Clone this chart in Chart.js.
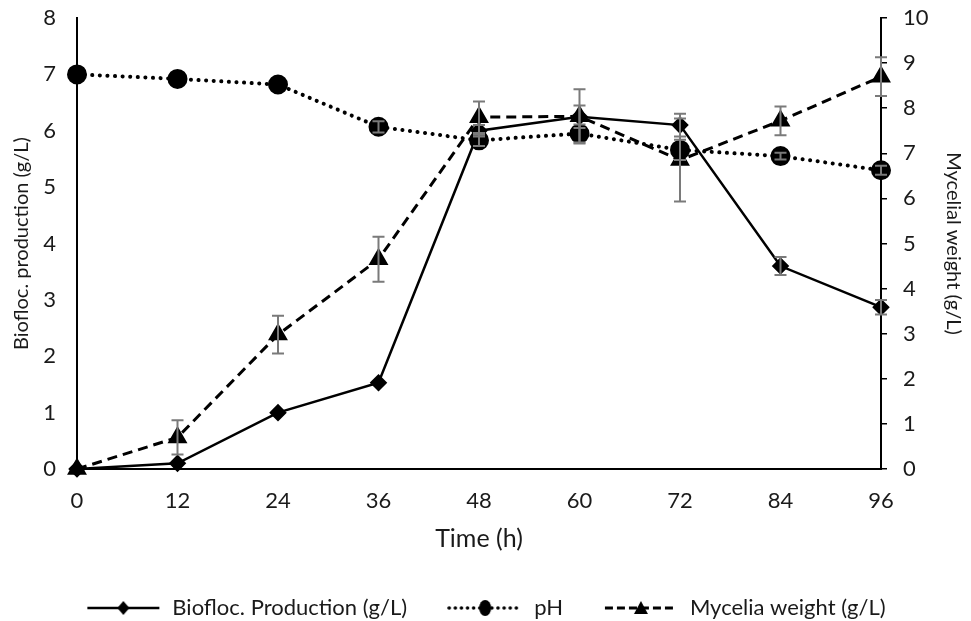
<!DOCTYPE html>
<html>
<head>
<meta charset="utf-8">
<script src="https://cdn.jsdelivr.net/npm/chart.js"></script>
<style>
  html, body { margin: 0; padding: 0; background: #fff; }
  #wrap { width: 971px; height: 621px; }
</style>
</head>
<body>
<div id="wrap"><canvas id="chart"></canvas></div>
<script>
// time points (h)
const hours = [0, 12, 24, 36, 48, 60, 72, 84, 96];

// series values
const biofloc = [0, 0.1, 1.0, 1.53, 6.0, 6.25, 6.1, 3.6, 2.87];
const bioflocErr = [0, 0, 0, 0, 0.1, 0.2, 0.2, 0.16, 0.13];
const ph = [7.0, 6.92, 6.82, 6.07, 5.83, 5.95, 5.66, 5.55, 5.3];
const phErr = [0, 0, 0, 0.1, 0.1, 0.16, 0.18, 0.06, 0.08];
const mycelia = [0, 0.7, 2.98, 4.65, 7.8, 7.82, 6.85, 7.72, 8.7];
const myceliaErr = [0, 0.38, 0.42, 0.5, 0.35, 0.6, 0.92, 0.32, 0.43];

const leftTicks = [0, 1, 2, 3, 4, 5, 6, 7, 8];
const rightTicks = [0, 1, 2, 3, 4, 5, 6, 7, 8, 9, 10];

const FONT = 'Lato, "Open Sans", sans-serif';
const TXT = '#1a1a1a';

function toPoints(vals) {
  return vals.map((v, i) => ({ x: hours[i], y: v }));
}

// small canvas used as legend symbol: line + marker
function legendIcon(dash, width, style) {
  const c = document.createElement('canvas');
  c.width = 76; c.height = 18;
  const g = c.getContext('2d');
  g.strokeStyle = '#000';
  g.lineWidth = width;
  g.lineCap = style === 'circle' ? 'round' : 'butt';
  g.setLineDash(dash);
  g.beginPath(); g.moveTo(2, 9); g.lineTo(74, 9); g.stroke();
  g.setLineDash([]);
  g.fillStyle = '#000';
  g.beginPath();
  if (style === 'rectRot') {
    g.moveTo(38, 2); g.lineTo(44, 9); g.lineTo(38, 16); g.lineTo(32, 9);
  } else if (style === 'circle') {
    g.ellipse(38, 9, 6, 8, 0, 0, Math.PI * 2);
  } else {
    g.moveTo(38, 2); g.lineTo(45, 15); g.lineTo(31, 15);
  }
  g.closePath(); g.fill();
  return c;
}

// draws the grey error bars through the dataset's own axes
const errorBars = {
  id: 'errorBars',
  afterDatasetsDraw(chart) {
    const ctx = chart.ctx;
    ctx.save();
    ctx.strokeStyle = '#7a7a7a';
    ctx.lineWidth = 2;
    chart.data.datasets.forEach(ds => {
      if (!ds.errors) return;
      const ys = chart.scales[ds.yAxisID];
      const xs = chart.scales.x;
      ds.data.forEach((p, i) => {
        const e = ds.errors[i];
        if (!e) return;
        const px = xs.getPixelForValue(p.x);
        const top = ys.getPixelForValue(p.y + e);
        const bot = ys.getPixelForValue(p.y - e);
        ctx.beginPath();
        ctx.moveTo(px, top); ctx.lineTo(px, bot);
        ctx.moveTo(px - 6, top); ctx.lineTo(px + 6, top);
        ctx.moveTo(px - 6, bot); ctx.lineTo(px + 6, bot);
        ctx.stroke();
      });
    });
    ctx.restore();
  }
};

// vertical axes: fixed width, and no extra padding above/below
function fixWidth(w) {
  return axis => {
    axis.width = w;
    axis.paddingTop = 18;
    axis.paddingBottom = 0;
  };
}

const datasets = [
  {
    label: 'Biofloc. Production (g/L)',
    data: toPoints(biofloc),
    errors: bioflocErr,
    yAxisID: 'y',
    borderColor: '#000',
    backgroundColor: '#000',
    borderWidth: 2.5,
    pointStyle: 'rectRot',
    pointRadius: 7,
    clip: false,
    icon: legendIcon([], 2.5, 'rectRot')
  },
  {
    label: 'pH',
    data: toPoints(ph),
    errors: phErr,
    yAxisID: 'y',
    borderColor: '#000',
    backgroundColor: '#000',
    borderWidth: 4,
    borderDash: [0.1, 7.5],
    borderCapStyle: 'round',
    pointStyle: 'circle',
    pointRadius: 8,
    clip: false,
    icon: legendIcon([0.1, 6], 3.5, 'circle')
  },
  {
    label: 'Mycelia weight (g/L)',
    data: toPoints(mycelia),
    errors: myceliaErr,
    yAxisID: 'y2',
    borderColor: '#000',
    backgroundColor: '#000',
    borderWidth: 3,
    borderDash: [10, 6],
    pointStyle: 'triangle',
    pointRadius: 8.5,
    clip: false,
    icon: legendIcon([8, 4], 3, 'triangle')
  }
];

new Chart(document.getElementById('chart').getContext('2d'), {
  type: 'line',
  data: { datasets: datasets },
  plugins: [errorBars],
  options: {
    responsive: true,
    maintainAspectRatio: false,
    animation: false,
    layout: { padding: { top: 0, left: 0, right: 0, bottom: -8 } },
    scales: {
      x: {
        type: 'linear',
        min: 0, max: 96,
        afterBuildTicks: axis => { axis.ticks = hours.map(v => ({ value: v })); },
        afterFit: axis => { axis.height = 88; },
        grid: { display: false, drawTicks: false },
        border: { color: '#000', width: 2 },
        ticks: { color: TXT, font: { family: FONT, size: 22 }, padding: 19 },
        title: { display: true, text: 'Time (h)', color: TXT, font: { family: FONT, size: 25 }, padding: { top: 0, bottom: 3 } }
      },
      y: {
        position: 'left',
        min: 0, max: 8,
        afterBuildTicks: axis => { axis.ticks = leftTicks.map(v => ({ value: v })); },
        afterFit: fixWidth(77),
        grid: { display: false, drawTicks: false },
        border: { color: '#000', width: 2 },
        ticks: { color: TXT, font: { family: FONT, size: 22 }, padding: 21 },
        title: { display: true, text: 'Biofloc. production (g/L)', color: TXT, font: { family: FONT, size: 20 }, padding: { top: 10, bottom: 0 } }
      },
      y2: {
        position: 'right',
        min: 0, max: 10,
        afterBuildTicks: axis => { axis.ticks = rightTicks.map(v => ({ value: v })); },
        afterFit: fixWidth(90),
        grid: { display: true, drawOnChartArea: false, drawTicks: true, tickLength: 6, color: '#000', lineWidth: 1.5 },
        border: { color: '#000', width: 2 },
        ticks: { color: TXT, font: { family: FONT, size: 22 }, padding: 16 },
        title: { display: true, text: 'Mycelial weight (g/L)', color: TXT, font: { family: FONT, size: 20 }, padding: { top: 6, bottom: 0 } }
      }
    },
    plugins: {
      legend: {
        position: 'bottom',
        labels: {
          usePointStyle: true,
          pointStyleWidth: 76,
          boxHeight: 18,
          color: TXT,
          font: { family: FONT, size: 22 },
          padding: 40,
          generateLabels: chart => chart.data.datasets.map((ds, i) => ({
            text: ds.label,
            pointStyle: ds.icon,
            fillStyle: '#000',
            strokeStyle: '#000',
            lineWidth: 0,
            datasetIndex: i,
            fontColor: TXT
          }))
        }
      },
      tooltip: { enabled: false }
    }
  }
});
</script>
</body>
</html>
